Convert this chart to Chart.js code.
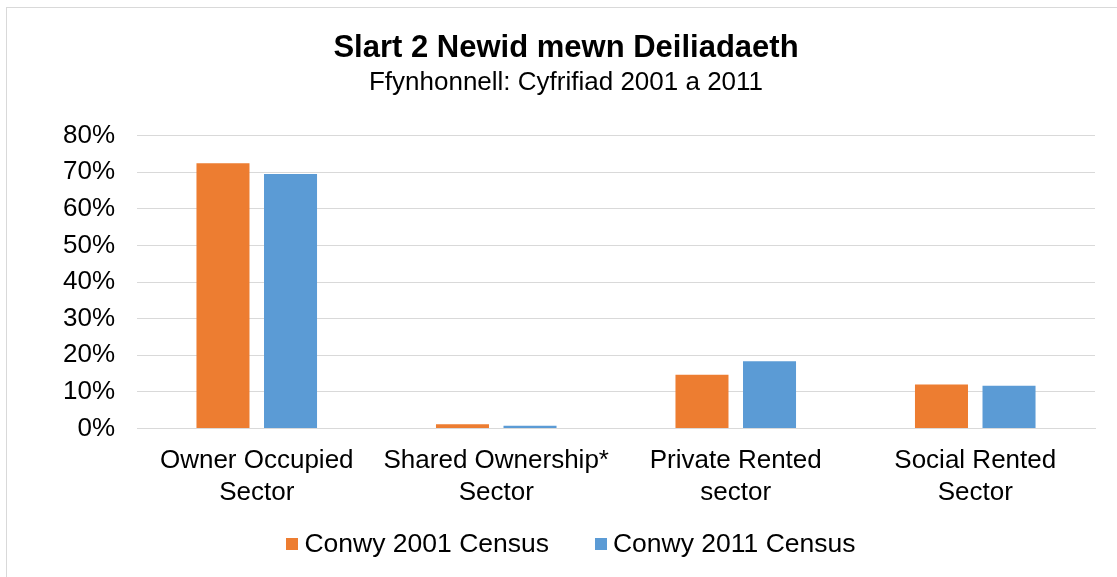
<!DOCTYPE html>
<html><head><meta charset="utf-8">
<script src="https://cdn.jsdelivr.net/npm/chart.js@4.4.0/dist/chart.umd.min.js"></script>
<style>html,body{margin:0;padding:0;background:#fff;}#wrap{width:1117px;height:577px;position:relative;}</style>
</head><body><div id="wrap"><canvas id="c" width="1117" height="577"></canvas></div>
<script>
const categories = [["Owner Occupied","Sector"],["Shared Ownership*","Sector"],["Private Rented","sector"],["Social Rented","Sector"]];
const series2001 = [72.4, 1.2, 14.7, 12.0];
const series2011 = [69.5, 0.8, 18.4, 11.7];
const seriesNames = ["Conwy 2001 Census","Conwy 2011 Census"];
const titleText = "Slart 2 Newid mewn Deiliadaeth";
const subtitleText = "Ffynhonnell: Cyfrifiad 2001 a 2011";

const FONT = "'Liberation Sans', Arial, sans-serif";
const borderPlugin = {
  id:'bg',
  beforeDraw(chart){
    const ctx=chart.ctx;ctx.save();
    ctx.fillStyle='#fff';ctx.fillRect(0,0,chart.width,chart.height);
    ctx.strokeStyle='#d9d9d9';ctx.lineWidth=1;
    ctx.strokeRect(6.5,7.5,chart.width+20,chart.height+20);
    ctx.restore();
  }
};
// legend drawn from the chart's datasets (box 12px, gap 6px, item spacing 46px)
const legendPlugin = {
  id:'customLegend',
  afterDraw(chart){
    const ctx=chart.ctx;ctx.save();
    ctx.font="26.5px "+FONT;ctx.textBaseline='middle';ctx.textAlign='left';
    const box=12,gap=6,spacing=46,y=544;
    const ds=chart.data.datasets;
    const widths=ds.map(d=>box+gap+ctx.measureText(d.label).width);
    const total=widths.reduce((a,b)=>a+b,0)+spacing*(ds.length-1);
    let x=chart.width/2+12.5-total/2;
    ds.forEach((d,i)=>{
      ctx.fillStyle=d.backgroundColor;ctx.fillRect(Math.round(x),y-6,box,box);
      ctx.fillStyle='#000';ctx.fillText(d.label,x+box+gap,y+1);
      x+=widths[i]+spacing;
    });
    ctx.restore();
  }
};
new Chart(document.getElementById('c'),{
  type:'bar',
  data:{labels:categories,datasets:[
    {label:seriesNames[0],data:series2001,backgroundColor:'#ed7d31',categoryPercentage:0.564,barPercentage:0.785},
    {label:seriesNames[1],data:series2011,backgroundColor:'#5b9bd5',categoryPercentage:0.564,barPercentage:0.785}
  ]},
  options:{
    responsive:false,animation:false,
    layout:{padding:{left:37,right:22,top:30,bottom:60}},
    plugins:{
      title:{display:true,text:titleText,color:'#000',font:{family:FONT,size:31,weight:'bold'},padding:{top:0,bottom:0}},
      subtitle:{display:true,text:subtitleText,color:'#000',font:{family:FONT,size:26},padding:{top:0,bottom:37}},
      legend:{display:false},
      tooltip:{enabled:false}
    },
    scales:{
      x:{grid:{display:false},border:{color:'#d9d9d9'},ticks:{color:'#000',font:{family:FONT,size:26},padding:9,maxRotation:0}},
      y:{min:0,max:80,grid:{color:'#d9d9d9',drawTicks:false},border:{display:false},
         afterFit(scale){scale.width=100;},
         ticks:{stepSize:10,color:'#000',font:{family:FONT,size:26},padding:22,callback:v=>v+'%'}}
    }
  },
  plugins:[borderPlugin,legendPlugin]
});
</script></body></html>
